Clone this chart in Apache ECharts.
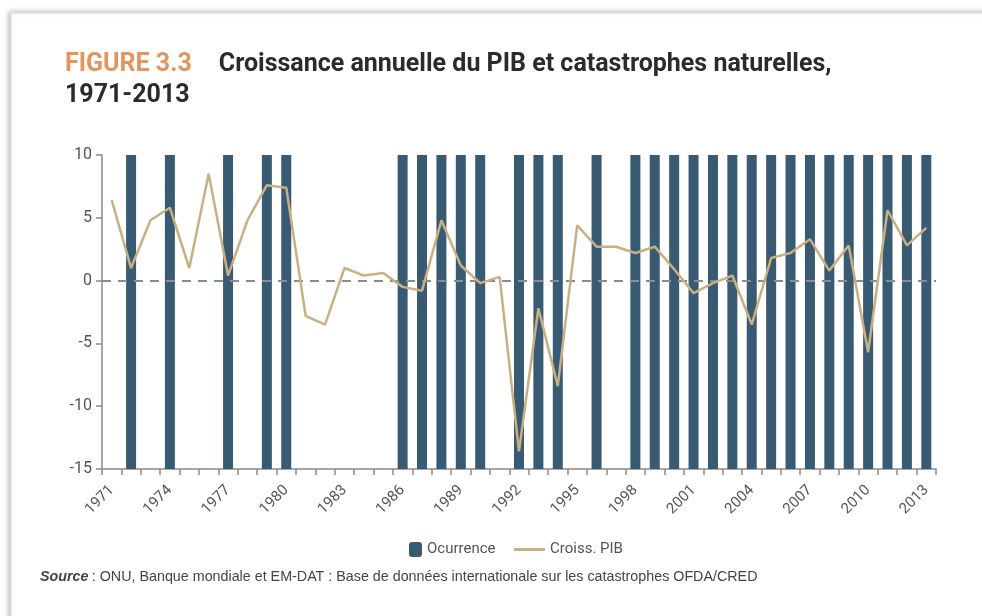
<!DOCTYPE html>
<html>
<head>
<meta charset="utf-8">
<script src="https://cdn.jsdelivr.net/npm/echarts@6/dist/echarts.min.js"></script>
<style>
  html, body { margin: 0; padding: 0; background: #fff; }
  #chart { width: 982px; height: 616px; }
</style>
</head>
<body>
<div id="chart"></div>
<script>
var chartDom = document.getElementById('chart');
var myChart = echarts.init(chartDom);
var option;

// years 1971-2013
var years = [];
for (var i = 1971; i <= 2013; i++) {
    years.push(String(i));
}

// 1 = catastrophe recorded that year
var ocurrence = [
    0, 1, 0, 1, 0, 0, 1, 0, 1, 1,     // 1971-1980
    0, 0, 0, 0, 0, 1, 1, 1, 1, 1,     // 1981-1990
    0, 1, 1, 1, 0, 1, 0, 1, 1, 1,     // 1991-2000
    1, 1, 1, 1, 1, 1, 1, 1, 1, 1,     // 2001-2010
    1, 1, 1                           // 2011-2013
];

// croissance annuelle du PIB (%)
var croissPib = [
    6.4, 1.0, 4.8, 5.8, 1.0, 8.5, 0.4, 4.8, 7.6, 7.4,
    -2.8, -3.5, 1.0, 0.4, 0.6, -0.5, -0.8, 4.8, 1.2, -0.2,
    0.3, -13.6, -2.2, -8.4, 4.4, 2.7, 2.7, 2.2, 2.7, 0.9,
    -1.0, -0.2, 0.4, -3.5, 1.8, 2.2, 3.3, 0.8, 2.8, -5.7,
    5.6, 2.8, 4.2
];

var yTicks = [-15, -10, -5, 0, 5, 10];

var barColor = '#385a72';
var lineColor = '#c8b083';
var axisColor = '#8a8a8a';
var labelColor = '#555';

option = {
    backgroundColor: '#fff',
    animation: false,
    textStyle: {
        fontFamily: 'Roboto, "Liberation Sans", sans-serif'
    },
    graphic: [{
        type: 'rect',
        z: -10,
        shape: { x: 11, y: 13, width: 1000, height: 700 },
        style: {
            fill: '#fff',
            stroke: '#e2e2e2',
            lineWidth: 1,
            shadowBlur: 5,
            shadowOffsetX: -2,
            shadowOffsetY: -1,
            shadowColor: 'rgba(0,0,0,0.25)'
        }
    }, {
        type: 'text',
        left: 40,
        top: 570,
        style: {
            text: '{b|Source} {c|: ONU, Banque mondiale et EM-DAT : Base de données internationale sur les catastrophes OFDA/CRED}',
            rich: {
                b: {
                    fontWeight: 'bold',
                    fontStyle: 'italic',
                    fontSize: 14.3,
                    fill: '#444'
                },
                c: {
                    fontSize: 14.3,
                    fill: '#444'
                }
            }
        }
    }],
    title: {
        left: 60,
        top: 44,
        text: '{a|FIGURE 3.3}{b|Croissance annuelle du PIB et catastrophes naturelles,}\n{c|1971-2013}',
        textStyle: {
            rich: {
                a: {
                    fontWeight: 'bold',
                    fontSize: 25,
                    color: '#e0965c',
                    lineHeight: 31,
                    padding: [0, 27, 0, 0]
                },
                b: {
                    fontWeight: 'bold',
                    fontSize: 25,
                    color: '#2b2b2b',
                    lineHeight: 31
                },
                c: {
                    fontWeight: 'bold',
                    fontSize: 25,
                    color: '#2b2b2b',
                    lineHeight: 31
                }
            }
        }
    },
    legend: [{
        data: ['Ocurrence'],
        left: 404,
        top: 537,
        itemWidth: 13,
        itemHeight: 15,
        itemGap: 6,
        textStyle: { fontSize: 15, color: labelColor }
    }, {
        data: [{ name: 'Croiss. PIB', icon: 'rect' }],
        left: 509,
        top: 537,
        itemWidth: 31,
        itemHeight: 3,
        textStyle: { fontSize: 15, color: labelColor }
    }],
    grid: {
        left: 102,
        right: 46,
        top: 155,
        bottom: 147
    },
    xAxis: {
        type: 'category',
        data: years,
        boundaryGap: true,
        axisLine: { onZero: false, lineStyle: { color: axisColor, width: 1.5 } },
        axisTick: {
            show: true,
            interval: 0,
            length: 6,
            lineStyle: { color: axisColor, width: 1.5 }
        },
        axisLabel: {
            interval: 2,
            rotate: 45,
            margin: 19,
            fontSize: 15,
            color: labelColor,
            padding: [0, 0, 0, 0]
        }
    },
    yAxis: [{
        type: 'value',
        min: yTicks[0],
        max: yTicks[yTicks.length - 1],
        interval: 5,
        axisLine: { show: true, lineStyle: { color: axisColor, width: 1.5 } },
        axisTick: { show: true, length: 6, lineStyle: { color: axisColor, width: 1.5 } },
        splitLine: { show: false },
        axisLabel: { fontSize: 16, color: labelColor, margin: 10 }
    }, {
        type: 'value',
        min: 0,
        max: 1,
        show: false
    }],
    series: [{
        name: 'Ocurrence',
        type: 'bar',
        yAxisIndex: 1,
        barWidth: 10,
        itemStyle: { color: barColor },
        data: ocurrence
    }, {
        name: 'Croiss. PIB',
        type: 'line',
        yAxisIndex: 0,
        symbol: 'none',
        showSymbol: false,
        lineStyle: { color: lineColor, width: 2.5 },
        itemStyle: { color: lineColor },
        z: 5,
        markLine: {
            silent: true,
            symbol: 'none',
            label: { show: false },
            lineStyle: { color: '#8c8c8c', type: [9, 7], width: 2 },
            data: [{ yAxis: 0 }]
        },
        data: croissPib
    }]
};

option && myChart.setOption(option);

window.onresize = function () {
    myChart.resize();
};
</script>
</body>
</html>
